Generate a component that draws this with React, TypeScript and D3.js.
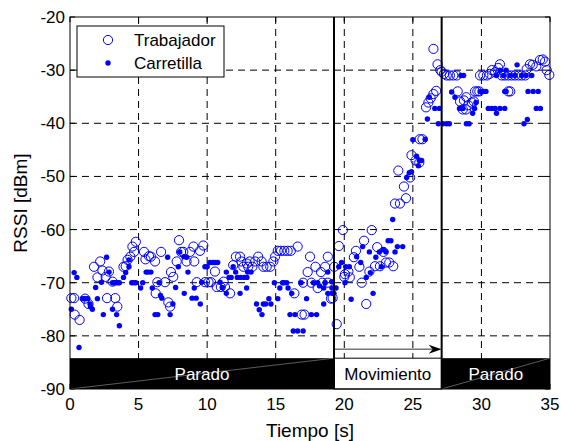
import React from "react";
import * as d3 from "d3";

const xTicks = [0, 5, 10, 15, 20, 25, 30, 35];
const yTicks = [-90, -80, -70, -60, -50, -40, -30, -20];
const phaseBounds = [0, 19.25, 27.1, 35];
const phaseLabels = ["Parado", "Movimiento", "Parado"];
const bandTop = -84.2;
const arrowLevel = -82.5;

const trabajador: [number, number][] = [
  [0.1,-72.9],[0.3,-72.9],[0.34,-76],[0.7,-77],[1.1,-73],[1.35,-74],[1.75,-67],[2.0,-69],[2.2,-66],[2.36,-67.7],[2.6,-68.9],[2.84,-67.9],[3.1,-69.8],[2.7,-72.9],[3.3,-72.9],[3.45,-74.5],[3.9,-67],[4.06,-66.9],[4.2,-65.7],[4.4,-65.1],[4.55,-63.2],[4.8,-62.3],[4.67,-64.2],[5.4,-64.2],[5.5,-65.6],[5.76,-65],[5.9,-65.1],[6.25,-72],[6.37,-69.9],
  [6.2,-66],[6.64,-64.2],[7.95,-62],[7.36,-68],[7.53,-68.9],[7.78,-66],[8.1,-64.2],[8.26,-64.2],[8.5,-66],[8.75,-64.2],[9.0,-63.2],[9.06,-66],[9.48,-64],[9.72,-63],[6.93,-69.9],[7.17,-73.7],[7.3,-74.5],[9.24,-69.9],[9.84,-69.9],[10.1,-69.9],[10.28,-69.9],[10.57,-67.9],[10.7,-70.8],[11.0,-70.8],[11.3,-70.8],[11.67,-72],[11.2,-69.8],[12.1,-65.1],[12.4,-65.1],[12.5,-66],[12.64,-67],[12.9,-66.4],[13.0,-67],[11.9,-66.7],
  [13.1,-66],[13.3,-67],[13.5,-66],[13.72,-65.1],[13.97,-66],[14.1,-67],[14.34,-67],[14.6,-67],[14.83,-66],[14.95,-65.1],[15.15,-64],[15.38,-64],[15.63,-64],[15.87,-64],[16.1,-64],[16.6,-63.2],[16.36,-72],[16.9,-76],[17.1,-76],[17.0,-70],[17.5,-65.1],[17.33,-68],[17.6,-70],[18.06,-71],[17.9,-67],[18.6,-67],[18.3,-68],[18.8,-65.1],[18.4,-70],[18.8,-70],[19.03,-73],[19.27,-67],[19.45,-77.8],
  [19.6,-63.1],[19.9,-60.1],[19.15,-72.9],[20.05,-68.4],[20.3,-67.9],[20.4,-69],[20.0,-68.9],[20.7,-65.2],[20.85,-64],[21.1,-67],[21.27,-70],[21.44,-62.1],[21.6,-74],[21.83,-67.9],[22.24,-66.9],[22.6,-66.9],[22.4,-63.3],[22.85,-64.2],[23.04,-66.2],[23.28,-66.2],[23.57,-66.9],[22.0,-60.1],[23.7,-55.1],[24.06,-55.1],[24.5,-54.1],[24.35,-51.9],[23.94,-48.9],[24.8,-50.2],[24.9,-46],[25.2,-47],[25.47,-47.4],[25.5,-43],[25.7,-43],
  [25.96,-37],[26.13,-36.1],[26.3,-35.3],[26.5,-34.5],[26.7,-33.9],[26.5,-26],[26.8,-28.9],[27.0,-30],[27.1,-30.3],[27.27,-30.7],[27.47,-31],[27.7,-31],[27.95,-31],[28.2,-31],[28.27,-34],[28.44,-35.9],[28.73,-35.7],[28.9,-35.1],[28.64,-37.4],[28.87,-37.4],[29.04,-36.6],[29.3,-36.1],[29.45,-35.9],[29.53,-34],[29.7,-34],[29.85,-34],[29.9,-31],[30.14,-31],[30.4,-31],[30.6,-30.7],[30.76,-30],[31.0,-30.4],[31.23,-29.6],[31.35,-28.9],[31.48,-31],[31.7,-31],[31.96,-31],[32.2,-31],[32.45,-31],[32.7,-31],[32.94,-31],[33.2,-31],[31.96,-34],[32.1,-34],[33.3,-29.8],[33.54,-28.9],[33.74,-29],[34.0,-29.3],[34.27,-28.1],[34.47,-28],[34.64,-28.4],[34.76,-30],[34.95,-30.9]
];

const carretilla: [number, number][] = [
  [0.3,-68.1],[0.5,-69],[0.1,-75],[0.66,-82.2],[0.9,-73],[1.0,-73],[1.15,-73],[1.3,-73],[1.46,-74],[1.5,-74.5],[1.63,-75],[2.0,-73],[1.87,-70.9],[2.43,-76],[2.67,-65.2],[2.3,-69.9],[2.85,-68],[3.1,-70],[3.2,-70],[3.35,-70],[3.5,-70],[3.6,-70],[3.1,-75],[3.4,-76],[3.6,-78.1],[3.9,-69],[4.06,-68.1],[4.3,-67],[4.3,-65.7],[4.5,-70],[4.65,-70],[4.8,-70],[5.15,-71],[5.3,-70],[5.55,-68],[5.7,-68],[5.9,-68],[6.0,-71],[6.2,-76],[6.4,-76],
  [7.12,-65.2],[8.0,-64.2],[8.3,-65.1],[8.5,-65.2],[7.9,-67],[8.6,-68],[6.5,-70],[7.7,-70.9],[8.33,-72],[6.6,-72.4],[6.7,-72.9],[8.9,-72.9],[9.2,-72.9],[9.06,-71],[9.5,-74],[7.5,-74],[7.3,-76],[9.84,-67],[10.0,-67],[10.2,-66.2],[10.4,-66.2],[10.57,-66.2],[10.77,-66.2],[9.6,-69.9],[10.94,-69.9],[11.1,-70.9],[11.4,-68],[11.6,-69],[11.75,-69],[11.9,-67],[12.08,-68],[12.2,-69],[12.45,-69],[12.7,-69],[12.9,-69],[12.4,-72],[11.4,-72],
  [12.88,-71],[12.95,-68],[13.2,-68],[13.6,-74],[13.8,-75.1],[14.0,-76],[14.1,-74],[14.27,-74],[14.5,-73],[14.65,-74],[15.15,-73],[15.3,-71],[15.5,-70],[15.6,-70],[15.8,-70],[15.9,-71],[16.17,-72],[14.9,-70],[16.04,-76],[16.4,-76],[17.6,-76],[17.98,-76],[16.28,-79.1],[16.6,-79.1],[17.0,-79.1],[16.85,-70],[17.25,-73],[17.75,-70],[18.06,-70],[18.2,-70.6],[18.5,-71],[18.6,-70],[18.8,-72],[19.1,-72],[18.8,-68],[19.1,-71],[18.5,-74],
  [19.08,-69.8],[19.4,-71],[19.25,-72],[19.6,-67],[19.8,-66.2],[20.1,-67],[20.37,-67],[20.05,-70],[20.5,-73.1],[20.9,-65.1],[21.2,-66.2],[21.34,-63.2],[21.83,-64.2],[21.6,-69],[21.9,-68.1],[22.1,-72],[22.3,-65.2],[22.56,-64.2],[22.7,-67],[22.85,-63.8],[23.04,-64.2],[23.2,-62.1],[23.4,-62.1],[23.7,-64.2],[23.87,-63.2],[24.26,-63.2],[23.53,-58.1],[24.55,-50.2],[24.74,-49.3],[24.9,-49.1],[25.27,-46.2],[25.47,-47],[25.64,-47],[25.4,-48],[25.0,-43.1],[25.9,-43],
  [26.06,-39.2],[26.2,-35.1],[26.6,-37.2],[26.93,-37.2],[26.86,-40.1],[27.2,-40.1],[27.47,-40.1],[27.66,-40.1],[27.83,-34.1],[28.07,-35.1],[28.4,-37.2],[28.65,-37.2],[28.9,-40.1],[29.1,-40.1],[29.36,-38.1],[29.5,-37.2],[29.6,-36.1],[29.9,-34],[30.1,-34],[30.33,-34],[30.5,-37.2],[30.75,-37.2],[31.0,-37.2],[31.35,-37.2],[31.7,-37.2],[31.1,-38.1],[31.1,-31],[31.35,-30],[31.6,-31],[31.8,-30],[32.1,-31],[32.45,-31],[32.6,-29],[32.94,-31],[33.26,-31],[33.67,-31],[31.7,-34],[31.8,-34],[33.1,-40.1],[33.35,-39.3],[33.4,-34],[33.77,-34],[34.14,-34],[34.0,-37.2],[34.3,-37.2],[28.5,-31],[28.7,-31]
];

const W = 561;
const H = 441;
const FONT = "'Liberation Sans', Arial, Helvetica, sans-serif";
const BLUE = "#0000ff";

export default function App() {
  const x = d3.scaleLinear().domain([0, 35]).range([70, 550]);
  const y = d3.scaleLinear().domain([-90, -20]).range([389, 17]);
  const [x0, x1] = x.range();
  const [yb, yt] = y.range();

  const bandY = y(bandTop);
  const pL = x(phaseBounds[1]);
  const pR = x(phaseBounds[2]);
  const arrowY = y(arrowLevel);

  return (
    <svg
      width={W}
      height={H}
      style={{ position: "absolute", left: 0, top: 0, background: "#fff" }}
      fontFamily={FONT}
    >
      <rect x={0} y={0} width={W} height={H} fill="#fff" />
      <rect x={x0} y={yt} width={x1 - x0} height={yb - yt} fill="#fff" />

      {/* grid */}
      <g stroke="#000" strokeWidth={1} strokeDasharray="7,5" fill="none">
        {xTicks.slice(1, -1).map((t) => (
          <line key={"gx" + t} x1={x(t)} x2={x(t)} y1={yt} y2={yb} />
        ))}
        {yTicks.slice(1, -1).map((t) => (
          <line key={"gy" + t} x1={x0} x2={x1} y1={y(t)} y2={y(t)} />
        ))}
      </g>

      {/* ticks inside */}
      <g stroke="#000" strokeWidth={1}>
        {xTicks.map((t) => (
          <g key={"tx" + t}>
            <line x1={x(t)} x2={x(t)} y1={yb} y2={yb - 5} />
            <line x1={x(t)} x2={x(t)} y1={yt} y2={yt + 5} />
          </g>
        ))}
        {yTicks.map((t) => (
          <g key={"ty" + t}>
            <line x1={x0} x2={x0 + 5} y1={y(t)} y2={y(t)} />
            <line x1={x1} x2={x1 - 5} y1={y(t)} y2={y(t)} />
          </g>
        ))}
      </g>

      {/* phase bands */}
      <rect x={x(phaseBounds[0])} y={bandY} width={pL - x(phaseBounds[0])} height={yb - bandY} fill="#000" />
      <line x1={x(phaseBounds[0])} y1={yb} x2={pL} y2={bandY} stroke="#9a9a9a" strokeWidth={0.6} />
      <rect x={pR} y={bandY} width={x(phaseBounds[3]) - pR} height={yb - bandY} fill="#000" />
      <line x1={pR} y1={yb} x2={x(phaseBounds[3])} y2={bandY} stroke="#9a9a9a" strokeWidth={0.6} />
      <rect x={pL} y={bandY} width={pR - pL} height={yb - bandY} fill="#fff" stroke="#000" strokeWidth={1} />

      {/* arrow */}
      <line x1={pL} x2={pR - 9} y1={arrowY} y2={arrowY} stroke="#333" strokeWidth={1} />
      <path d={`M${pR},${arrowY} L${pR - 13},${arrowY - 4.5} L${pR - 9},${arrowY} L${pR - 13},${arrowY + 4.5} Z`} fill="#000" />

      {/* phase labels */}
      {phaseLabels.map((lab, i) => (
        <text
          key={"pl" + i}
          x={(x(phaseBounds[i]) + x(phaseBounds[i + 1])) / 2}
          y={380}
          textAnchor="middle"
          fontSize={17}
          fill={i === 1 ? "#000" : "#fff"}
        >
          {lab}
        </text>
      ))}

      {/* data */}
      <g fill="none" stroke={BLUE} strokeWidth={1}>
        {trabajador.map((d, i) => (
          <circle key={"t" + i} cx={x(d[0])} cy={y(d[1])} r={4.6} />
        ))}
      </g>
      <g fill={BLUE}>
        {carretilla.map((d, i) => (
          <circle key={"c" + i} cx={x(d[0])} cy={y(d[1])} r={2.7} />
        ))}
      </g>

      {/* phase separators */}
      <line x1={pL} x2={pL} y1={yt} y2={yb} stroke="#000" strokeWidth={2} />
      <line x1={pR} x2={pR} y1={yt} y2={yb} stroke="#000" strokeWidth={2} />

      {/* axes box */}
      <rect x={x0} y={yt} width={x1 - x0} height={yb - yt} fill="none" stroke="#000" strokeWidth={1} />

      {/* legend */}
      <rect x={77} y={26} width={147} height={51} fill="#fff" stroke="#000" strokeWidth={1} />
      <circle cx={108} cy={40} r={4.6} fill="none" stroke={BLUE} strokeWidth={1} />
      <circle cx={108} cy={63} r={2.7} fill={BLUE} />
      <text x={134} y={46} fontSize={17} fill="#000">Trabajador</text>
      <text x={134} y={69} fontSize={17} fill="#000">Carretilla</text>

      {/* tick labels */}
      {xTicks.map((t) => (
        <text key={"lx" + t} x={x(t)} y={410} textAnchor="middle" fontSize={17} fill="#000">
          {t}
        </text>
      ))}
      {yTicks.map((t) => (
        <text key={"ly" + t} x={65} y={y(t)} dy="0.35em" textAnchor="end" fontSize={17} fill="#000">
          {t}
        </text>
      ))}

      {/* axis titles */}
      <text x={(x0 + x1) / 2} y={437} textAnchor="middle" fontSize={19} fill="#000">
        Tiempo [s]
      </text>
      <text
        transform={`translate(27,${(yt + yb) / 2}) rotate(-90)`}
        textAnchor="middle"
        fontSize={19}
        fill="#000"
      >
        RSSI [dBm]
      </text>
    </svg>
  );
}
